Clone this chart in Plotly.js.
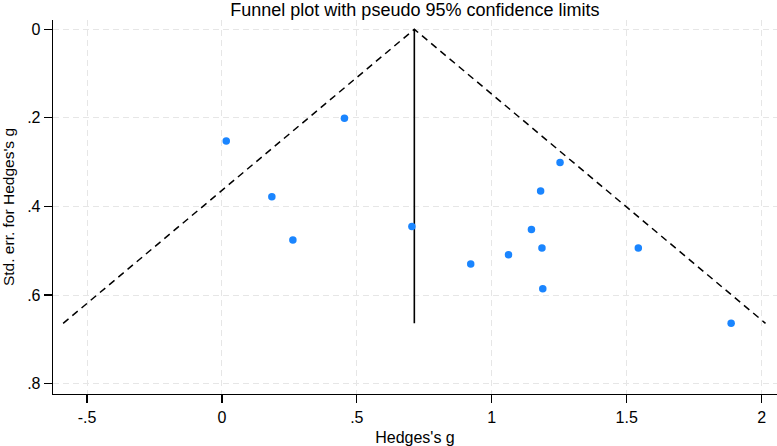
<!DOCTYPE html>
<html>
<head>
<meta charset="utf-8">
<script src="https://cdn.plot.ly/plotly-3.0.1.min.js"></script>
<style>
  html, body { margin: 0; padding: 0; background: #fff; }
  #chart { width: 777px; height: 446px; }
</style>
</head>
<body>
<div id="chart"></div>
<script>
// Study effect sizes (Hedges's g) and their standard errors
const hedgesG = [0.016, 0.185, 0.454, 0.263, 0.704, 1.253, 1.181, 1.147, 1.186, 1.062, 0.922, 1.189, 1.543, 1.887];
const stdErr  = [0.252, 0.378, 0.201, 0.476, 0.445, 0.301, 0.365, 0.452, 0.494, 0.509, 0.530, 0.586, 0.494, 0.664];

// Pooled estimate and pseudo 95% limits
const pooled = 0.713;
const zCrit = 1.96;
const seMax = Math.max(...stdErr);

const xTickVals = [-0.5, 0, 0.5, 1, 1.5, 2];
const xTickText = ["-.5", "0", ".5", "1", "1.5", "2"];
const yTickVals = [0, 0.2, 0.4, 0.6, 0.8];
const yTickText = ["0", ".2", ".4", ".6", ".8"];

const font = "Liberation Sans, Arial, sans-serif";

const traces = [
  {
    x: [pooled - zCrit * seMax, pooled, pooled + zCrit * seMax],
    y: [seMax, 0, seMax],
    mode: "lines",
    line: { color: "#000", width: 1.5, dash: "7px,5px" },
    hoverinfo: "skip"
  },
  {
    x: [pooled, pooled],
    y: [0, seMax],
    mode: "lines",
    line: { color: "#000", width: 1.6 },
    hoverinfo: "skip"
  },
  {
    x: hedgesG,
    y: stdErr,
    mode: "markers",
    marker: { color: "#1a85ff", size: 7.5 }
  }
];

const layout = {
  width: 777,
  height: 446,
  margin: { l: 53, r: 0, t: 20, b: 52 },
  paper_bgcolor: "#fff",
  plot_bgcolor: "#fff",
  showlegend: false,
  font: { family: font, color: "#000", size: 16 },
  title: {
    text: "Funnel plot with pseudo 95% confidence limits",
    font: { family: font, size: 18, color: "#000" },
    x: 0.534, xanchor: "center",
    yref: "container", y: 0.979, yanchor: "middle",
    pad: { t: 0, b: 0 }
  },
  xaxis: {
    range: [-0.626, 2.057],
    tickvals: xTickVals,
    ticktext: xTickText,
    ticks: "outside",
    ticklen: 8,
    tickcolor: "#000",
    tickwidth: 1.2,
    showline: true,
    linecolor: "#000",
    linewidth: 1.3,
    zeroline: false,
    showgrid: true,
    gridcolor: "#e6e6e6",
    griddash: "6px,4px",
    gridwidth: 1,
    tickfont: { family: font, size: 16, color: "#000" },
    title: { text: "Hedges's g", font: { family: font, size: 16, color: "#000" }, standoff: 9 }
  },
  yaxis: {
    range: [0.8235, -0.021],
    tickvals: yTickVals,
    ticktext: yTickText,
    ticks: "outside",
    ticklen: 8,
    tickcolor: "#000",
    tickwidth: 1.2,
    showline: true,
    linecolor: "#000",
    linewidth: 1.3,
    zeroline: false,
    showgrid: true,
    gridcolor: "#e6e6e6",
    griddash: "6px,4px",
    gridwidth: 1,
    tickfont: { family: font, size: 16, color: "#000" },
    title: { text: "Std. err. for Hedges's g", font: { family: font, size: 15.5, color: "#000" }, standoff: 10 }
  }
};

Plotly.newPlot("chart", traces, layout, { displayModeBar: false, staticPlot: true });
</script>
</body>
</html>
